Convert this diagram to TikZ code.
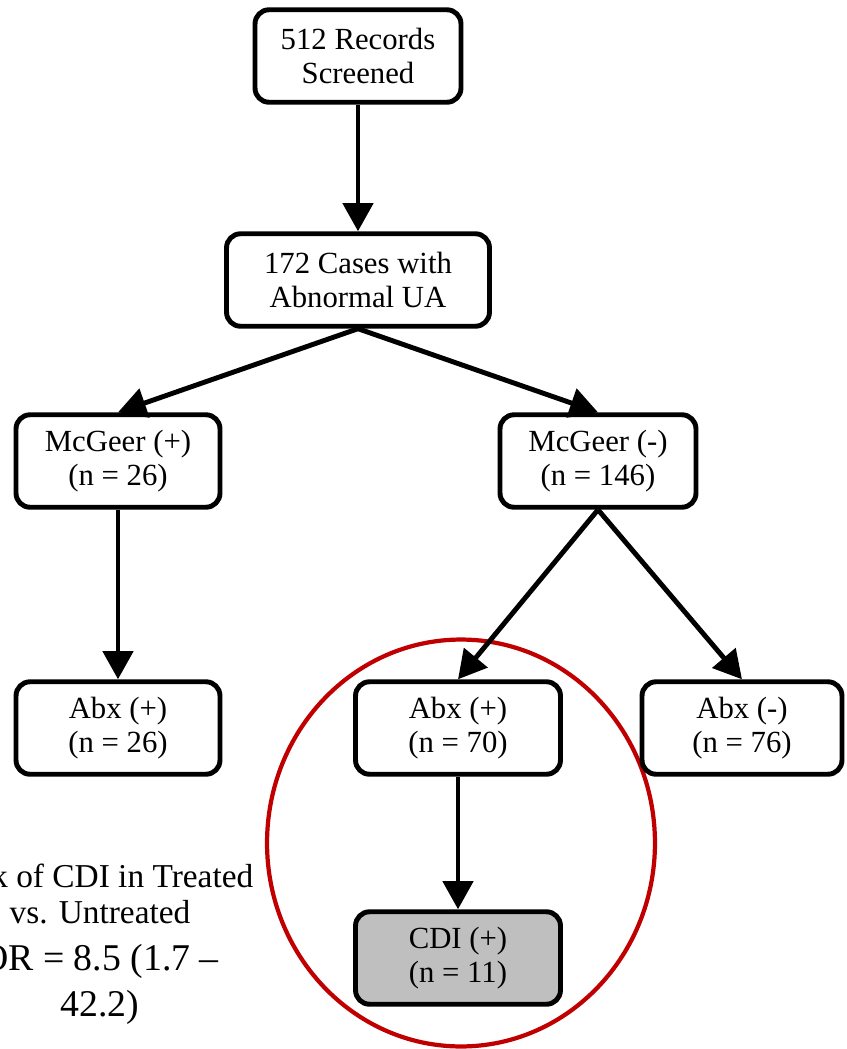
\documentclass[tikz,border=0pt]{standalone}
\usepackage{fontspec}
\setmainfont{Liberation Serif}
\usetikzlibrary{positioning, arrows.meta}

\definecolor{circred}{RGB}{192,0,0}
\definecolor{hitgray}{RGB}{191,191,191}

\tikzset{
    stagebox/.style={draw, line width=2.8pt, rounded corners=8pt, fill=white,
        align=center, minimum height=1.85cm, font=\fontsize{17.5}{19.5}\selectfont},
    flow/.style={line width=2.8pt, -{Triangle[length=16pt, width=17pt]}},
}

\begin{document}
\begin{tikzpicture}[x=0.02cm, y=-0.02cm]
    \useasboundingbox (0,0) rectangle (846,1049);
    \clip (0,0) rectangle (846,1049);

    % highlight round the treated branch
    \draw[circred, line width=2.4pt] (461,843) ellipse [x radius=3.88cm, y radius=4.07cm];

    % boxes
    \node[stagebox, minimum width=4.12cm] (records) at (358,56) {512 Records\\Screened};
    \node[stagebox, minimum width=5.26cm] (cases) at (358,280) {172 Cases with\\Abnormal UA};
    \node[stagebox, minimum width=4.08cm] (mcpos) at (118,461) {McGeer (+)\\(n = 26)};
    \node[stagebox, minimum width=3.92cm] (mcneg) at (598,461) {McGeer (-)\\(n = 146)};
    \node[stagebox, minimum width=4.08cm] (abxleft) at (118,728) {Abx (+)\\(n = 26)};
    \node[stagebox, minimum width=4.1cm] (abxmid) at (458,728) {Abx (+)\\(n = 70)};
    \node[stagebox, minimum width=4.0cm] (abxneg) at (742,728) {Abx (-)\\(n = 76)};
    \node[stagebox, minimum width=4.1cm, fill=hitgray] (cdi) at (458,958) {CDI (+)\\(n = 11)};

    % odds ratio note (runs off the left edge, as in the slide)
    \node[align=center, font=\fontsize{19}{21}\selectfont] (risk) at (100,894)
        {Risk of CDI in Treated\\vs. Untreated};
    \node[align=center, font=\fontsize{21.5}{26.5}\selectfont, below=4pt of risk] (odds)
        {OR = 8.5 (1.7 --\\42.2)};

    % arrows
    \draw[flow] (records) -- (cases);
    \draw[flow] (cases.south) -- (mcpos.north);
    \draw[flow] (cases.south) -- (mcneg.north);
    \draw[flow] (mcpos) -- (abxleft);
    \draw[flow] (mcneg.south) -- (abxmid.north);
    \draw[flow] (mcneg.south) -- (abxneg.north);
    \draw[flow] (abxmid) -- (cdi);
\end{tikzpicture}
\end{document}
